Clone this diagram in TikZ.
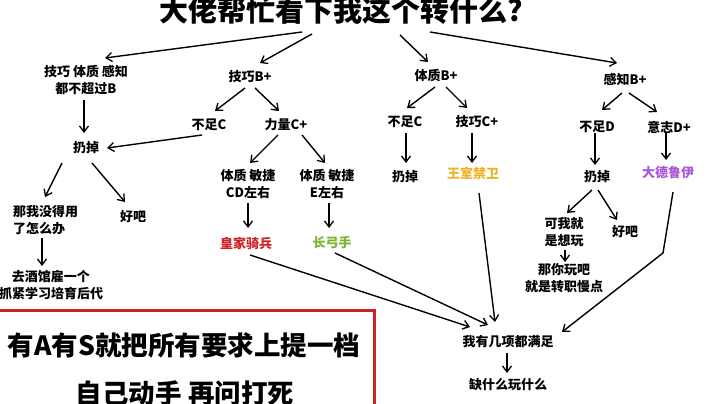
\documentclass[tikz,border=0pt]{standalone}
\usepackage{fontspec}
\setmainfont{Noto Sans CJK SC}
\usetikzlibrary{arrows.meta}
\definecolor{kred}{RGB}{205,35,40}
\definecolor{korange}{RGB}{238,178,40}
\definecolor{kgreen}{RGB}{125,180,50}
\definecolor{kpurple}{RGB}{170,85,215}
\begin{document}
\begin{tikzpicture}[x=1pt,y=-1pt,
  lbl/.style={inner sep=0pt,align=center,font=\bfseries\fontsize{13}{17}\selectfont},
  arr/.style={line width=1.4pt,-{Straight Barb[length=6pt,width=9pt,line width=1.3pt]}},
  ln/.style={line width=1.4pt}]
\useasboundingbox (0,0) rectangle (720,404);
\fill[white] (0,0) rectangle (720,404);
% title
\node[inner sep=0pt,font=\bfseries\fontsize{29}{32}\selectfont] (title) at (341,10) {大佬帮忙看下我这个转什么?};
% level 1
\node[lbl] (n1) at (86,80.5) {技巧 体质 感知\\都不超过B};
\node[lbl] (n2) at (250,77) {技巧B+};
\node[lbl] (n3) at (436,76) {体质B+};
\node[lbl] (n4) at (625,80) {感知B+};
% level 2
\node[lbl] (a1) at (209,125) {不足C};
\node[lbl] (a2) at (286,125) {力量C+};
\node[lbl] (b1) at (405,122) {不足C};
\node[lbl] (b2) at (477,122) {技巧C+};
\node[lbl] (c1) at (597,127) {不足D};
\node[lbl] (c2) at (669,127) {意志D+};
% left branch
\node[lbl] (d0) at (86,148) {扔掉};
\node[lbl,align=left,anchor=west] (d1) at (13,220.5) {那我没得用\\了怎么办};
\node[lbl] (d2) at (133,217) {好吧};
\node[lbl] (d3) at (51,285.5) {去酒馆雇一个\\抓紧学习培育后代};
% strength branch
\node[lbl] (e1) at (248,183.5) {体质 敏捷\\CD左右};
\node[lbl] (e2) at (327,183.5) {体质 敏捷\\E左右};
\node[lbl,text=kred] (e3) at (246,243) {皇家骑兵};
\node[lbl,text=kgreen] (e4) at (332,243) {长弓手};
% constitution branch
\node[lbl] (f1) at (405,177) {扔掉};
\node[lbl,text=korange] (f2) at (473,173) {王室禁卫};
% perception branch
\node[lbl] (g1) at (597,177) {扔掉};
\node[lbl,text=kpurple] (g2) at (668,173) {大德鲁伊};
\node[lbl] (h1) at (564,232.5) {可我就\\是想玩};
\node[lbl] (h2) at (625,232) {好吧};
\node[lbl] (h3) at (564,278.5) {那你玩吧\\就是转职慢点};
% bottom
\node[lbl] (m) at (508,342) {我有几项都满足};
\node[lbl] (k) at (508,385) {缺什么玩什么};
% red box
\draw[kred,line width=3pt] (-5,310) rectangle (374,420);
\node[inner sep=0pt,font=\bfseries\fontsize{26.5}{30}\selectfont] (t1) at (184,345) {有A有S就把所有要求上提一档};
\node[inner sep=0pt,font=\bfseries\fontsize{26.5}{30}\selectfont] (t2) at (185,393) {自己动手 再问打死};
% connectors
\draw[arr] ([shift={(-39,22)}]title.center) -- ([shift={(19,-22.5)}]n1.center);
\draw[arr] ([shift={(-29,24)}]title.center) -- ([shift={(10,-14)}]n2.center);
\draw[arr] ([shift={(59,25)}]title.center) -- ([shift={(-8,-14)}]n3.center);
\draw[arr] ([shift={(89,22)}]title.center) -- ([shift={(-8,-17)}]n4.center);
\draw[arr] ([shift={(-2,19.5)}]n1.center) -- ([shift={(-2,-15)}]d0.center);
\draw[arr] ([shift={(-5,11)}]n2.center) -- ([shift={(6,-14)}]a1.center);
\draw[arr] ([shift={(5,11)}]n2.center) -- ([shift={(-7,-14)}]a2.center);
\draw[arr] ([shift={(-7,10)}]a1.center) -- ([shift={(21,0)}]d0.center);
\draw[arr] ([shift={(-24,15)}]d0.center) -- ([shift={(32,-23.5)}]d1.west);
\draw[arr] ([shift={(6,15)}]d0.center) -- ([shift={(-8,-15)}]d2.center);
\draw[arr] ([shift={(29,17.5)}]d1.west) -- ([shift={(-9,-19.5)}]d3.center);
\draw[arr] ([shift={(-8,10)}]a2.center) -- ([shift={(2,-20.5)}]e1.center);
\draw[arr] ([shift={(16,10)}]a2.center) -- ([shift={(-2,-20.5)}]e2.center);
\draw[arr] ([shift={(0,19.5)}]e1.center) -- ([shift={(2,-15)}]e3.center);
\draw[arr] ([shift={(2,19.5)}]e2.center) -- ([shift={(-3,-15)}]e4.center);
\draw[arr] ([shift={(-1,11)}]n3.center) -- ([shift={(2,-14)}]b1.center);
\draw[arr] ([shift={(10,11)}]n3.center) -- ([shift={(-10,-14)}]b2.center);
\draw[arr] ([shift={(1,11)}]b1.center) -- ([shift={(1,-14)}]f1.center);
\draw[arr] ([shift={(-5,11)}]b2.center) -- ([shift={(-1,-10)}]f2.center);
\draw[arr] ([shift={(-3,13)}]n4.center) -- ([shift={(5,-17)}]c1.center);
\draw[arr] ([shift={(4,13)}]n4.center) -- ([shift={(-12,-15)}]c2.center);
\draw[arr] ([shift={(-2,6)}]c1.center) -- ([shift={(-2,-12)}]g1.center);
\draw[arr] ([shift={(-3,6)}]c2.center) -- ([shift={(-2,-13)}]g2.center);
\draw[arr] ([shift={(-5,13)}]g1.center) -- ([shift={(3,-19.5)}]h1.center);
\draw[arr] ([shift={(1,13)}]g1.center) -- ([shift={(-8,-12)}]h2.center);
\draw[arr] ([shift={(1,17.5)}]h1.center) -- ([shift={(1,-16.5)}]h3.center);
\draw[arr] ([shift={(4,12)}]e3.center) -- ([shift={(-38,-15)}]m.center);
\draw[arr] ([shift={(3,10)}]e4.center) -- ([shift={(-20,-17)}]m.center);
\draw[arr] ([shift={(6,20)}]f2.center) -- ([shift={(-13,-20)}]m.center);
\draw[arr] ([shift={(5,19)}]g2.center) -- ++(-10,61) -- ([shift={(54,-10)}]m.center);
\draw[arr] ([shift={(-1,11)}]m.center) -- ([shift={(-1,-12)}]k.center);
\end{tikzpicture}
\end{document}
